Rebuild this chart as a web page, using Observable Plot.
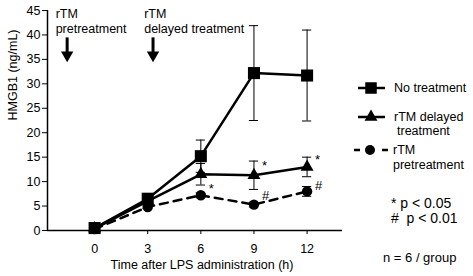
<!DOCTYPE html>
<html><head><meta charset="utf-8">
<script src="https://cdn.jsdelivr.net/npm/d3@7"></script>
<script src="https://cdn.jsdelivr.net/npm/@observablehq/plot@0.6"></script>
<style>
body{margin:0;background:#fff;font-family:"Liberation Sans",Arial,sans-serif;}
#c{position:relative;width:473px;height:276px;}
</style></head><body><div id="c"></div>
<script>
const times = [0, 3, 6, 9, 12];
const noTreatment = [0.5, 6.5, 15.2, 32.2, 31.7];
const noTreatmentErr = [0, 0.5, 3.3, 9.7, 9.3];
const delayed = [0.4, 6.0, 11.5, 11.3, 13.0];
const delayedErr = [0, 0.4, 2.2, 2.9, 2.0];
const pre = [0.3, 4.8, 7.2, 5.3, 8.0];
const preErr = [0, 0.3, 0.5, 0.5, 1.0];
const yTicks = [0,5,10,15,20,25,30,35,40,45];
const sigMarks = [
  {x: 6, y: 8.5, t: "*"},
  {x: 9, y: 13.3, t: "*"},
  {x: 9, y: 7.0, t: "#"},
  {x: 12, y: 14.5, t: "*"},
  {x: 12, y: 9.2, t: "#"}
];
const arrowsX = [-1.55, 3.3];
const labels = [{x: -2.2, t: "rTM\npretreatment"}, {x: 2.8, t: "rTM\ndelayed treatment"}];

const mk = (vals, errs) => times.map((t, i) => ({t, v: vals[i], e: errs[i]}));
const A = mk(noTreatment, noTreatmentErr), B = mk(delayed, delayedErr), C = mk(pre, preErr);
const capW = 0.26;
function errMarks(D) {
  const d = D.filter(p => p.e > 0);
  return [
    Plot.ruleX(d, {x: "t", y1: p => p.v - p.e, y2: p => p.v + p.e, stroke: "#000", strokeWidth: 1}),
    Plot.ruleY(d, {y: p => p.v + p.e, x1: p => p.t - capW, x2: p => p.t + capW, stroke: "#000", strokeWidth: 1}),
    Plot.ruleY(d, {y: p => p.v - p.e, x1: p => p.t - capW, x2: p => p.t + capW, stroke: "#000", strokeWidth: 1})
  ];
}
const plot = Plot.plot({
  width: 473, height: 276,
  marginLeft: 47, marginTop: 10, marginBottom: 46, marginRight: 131,
  style: {fontFamily: "Liberation Sans, Arial, sans-serif", fontSize: "12px", color: "#000", background: "#fff", overflow: "visible"},
  x: {domain: [-2.66, 14]},
  y: {domain: [0, 45]},
  marks: [
    Plot.axisY({ticks: yTicks, tickSize: 5, tickPadding: 2, label: null, fontSize: 12.5}),
    Plot.axisX({ticks: times, tickSize: 4, tickPadding: 10, label: null, fontSize: 12.5}),
    Plot.ruleX([-2.66], {strokeWidth: 1.5}),
    Plot.ruleY([0], {strokeWidth: 1.5}),
    ...errMarks(A), ...errMarks(B), ...errMarks(C),
    Plot.line(A, {x: "t", y: "v", stroke: "#000", strokeWidth: 2.5}),
    Plot.line(B, {x: "t", y: "v", stroke: "#000", strokeWidth: 2.5}),
    Plot.line(C, {x: "t", y: "v", stroke: "#000", strokeWidth: 2.5, strokeDasharray: "8,6"}),
    Plot.dot(A, {x: "t", y: "v", symbol: "square", r: 6.8, fill: "#000"}),
    Plot.dot(B, {x: "t", y: "v", symbol: "triangle", r: 4.8, fill: "#000"}),
    Plot.dot(C, {x: "t", y: "v", symbol: "circle", r: 5.2, fill: "#000"}),
    Plot.text(sigMarks, {x: p => p.x + 0.45, y: "y", text: "t", textAnchor: "start", fontSize: 13}),
    Plot.text(labels, {x: "x", y: 45.6, text: "t", textAnchor: "start", lineAnchor: "top", lineHeight: 1.2, fontSize: 12.5}),
    Plot.ruleX(arrowsX, {y1: 39.4, y2: 36.2, strokeWidth: 3}),
    Plot.dot(arrowsX, {x: d => d, y: 35.9, symbol: "triangle", r: 4.6, fill: "#000", rotate: 180}),
    Plot.text(["Time after LPS administration (h)"], {frameAnchor: "bottom", dx: 7, dy: 38, fontSize: 12.5}),
    Plot.text(["HMGB1 (ng/mL)"], {frameAnchor: "left", dx: -35, rotate: -90, fontSize: 12.5})
  ]
});
document.getElementById("c").appendChild(plot);
const svg = d3.select(plot);
const g = svg.append("g").attr("font-family", "Liberation Sans, Arial, sans-serif").attr("font-size", 12.5).attr("fill", "#000").attr("text-anchor", "start");
function legLine(y, dashed) {
  g.append("line").attr("x1", dashed ? 354 : 358).attr("x2", dashed ? 388 : 385).attr("y1", y).attr("y2", y)
    .attr("stroke", "#000").attr("stroke-width", 2.5).attr("stroke-dasharray", dashed ? "6,22" : null);
}
legLine(88, false);
g.append("path").attr("d", d3.symbol(d3.symbolSquare, Math.PI*6.5*6.5)()).attr("transform", "translate(371,88)");
g.append("text").attr("x", 394).attr("y", 92).text("No treatment");
legLine(117, false);
g.append("path").attr("d", d3.symbol(d3.symbolTriangle, Math.PI*4.8*4.8)()).attr("transform", "translate(371,117)");
g.append("text").attr("x", 394).attr("y", 121).text("rTM delayed");
g.append("text").attr("x", 397).attr("y", 135).text("treatment");
legLine(150, true);
g.append("circle").attr("cx", 370).attr("cy", 150).attr("r", 5);
g.append("text").attr("x", 393).attr("y", 154).text("rTM");
g.append("text").attr("x", 393).attr("y", 169).text("pretreatment");
g.append("text").attr("x", 391).attr("y", 208).attr("font-size", 14).text("* p < 0.05");
g.append("text").attr("x", 391).attr("y", 223).attr("font-size", 14).text("#  p < 0.01");
g.append("text").attr("x", 383).attr("y", 262).attr("font-size", 13).text("n = 6 / group");
</script></body></html>
